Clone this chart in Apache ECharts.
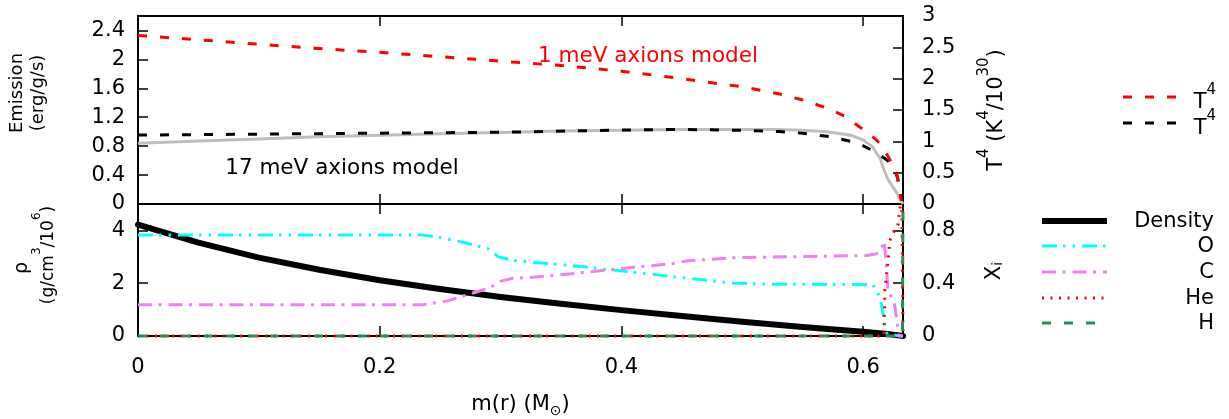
<!DOCTYPE html>
<html><head><meta charset="utf-8">
<script src="https://cdn.jsdelivr.net/npm/echarts@6/dist/echarts.min.js"></script>
<style>html,body{margin:0;padding:0;background:#fff}#c{width:1229px;height:419px}</style>
</head><body><div id="c"></div>
<script>
// ---------- data ----------
const xMax = 0.633;
// top panel, right axis: T^4 (K^4/10^30)
const mT4_1meV = [0, 0.05, 0.1, 0.15, 0.2, 0.25, 0.3, 0.35, 0.4, 0.45, 0.5, 0.53, 0.55, 0.57, 0.585, 0.6, 0.61, 0.615, 0.62, 0.625, 0.628, 0.63, 0.6315];
const T4_1meV  = [2.69, 2.62, 2.55, 2.48, 2.42, 2.35, 2.28, 2.21, 2.12, 2.00, 1.87, 1.76, 1.66, 1.53, 1.40, 1.19, 1.04, 0.94, 0.78, 0.61, 0.46, 0.25, 0.05];
const mT4_17meV = [0, 0.1, 0.2, 0.3, 0.4, 0.45, 0.5, 0.53, 0.55, 0.57, 0.59, 0.6, 0.61, 0.62, 0.625, 0.628, 0.63, 0.632];
const T4_17meV  = [1.10, 1.115, 1.13, 1.145, 1.18, 1.19, 1.175, 1.155, 1.13, 1.08, 1.0, 0.93, 0.83, 0.70, 0.58, 0.45, 0.30, 0.05];
// top panel, left axis: emission (erg/g/s)
const mEmission = [0, 0.05, 0.1, 0.15, 0.2, 0.25, 0.3, 0.35, 0.4, 0.45, 0.5, 0.53, 0.55, 0.57, 0.58, 0.59, 0.6, 0.608, 0.611, 0.614, 0.616, 0.62, 0.624, 0.628, 0.631, 0.633];
const emission  = [0.84, 0.87, 0.90, 0.93, 0.95, 0.97, 0.99, 1.01, 1.02, 1.03, 1.03, 1.03, 1.02, 1.00, 0.975, 0.95, 0.885, 0.79, 0.70, 0.64, 0.53, 0.36, 0.25, 0.15, 0.055, 0];
// bottom panel, left axis: density (g/cm^3/10^6)
const mDensity = [0, 0.025, 0.05, 0.1, 0.15, 0.2, 0.25, 0.3, 0.35, 0.4, 0.45, 0.5, 0.55, 0.6, 0.62, 0.633];
const density  = [4.22, 3.88, 3.54, 2.97, 2.51, 2.11, 1.78, 1.48, 1.22, 0.98, 0.76, 0.54, 0.34, 0.16, 0.08, 0];
// bottom panel, right axis: mass fractions X_i
const mOxygen = [0, 0.235, 0.25, 0.269, 0.29, 0.298, 0.31, 0.324, 0.355, 0.41, 0.454, 0.492, 0.52, 0.603, 0.608, 0.611, 0.614, 0.616, 0.618, 0.62, 0.633];
const oxygen  = [0.766, 0.766, 0.746, 0.71, 0.66, 0.60, 0.573, 0.562, 0.537, 0.483, 0.438, 0.401, 0.393, 0.389, 0.387, 0.35, 0.29, 0.195, 0.07, 0.01, 0];
const mCarbon = [0, 0.236, 0.256, 0.269, 0.291, 0.2996, 0.31, 0.324, 0.355, 0.41, 0.443, 0.454, 0.492, 0.603, 0.611, 0.615, 0.6175, 0.619, 0.6205, 0.623, 0.626, 0.628, 0.6295, 0.633];
const carbon  = [0.2365, 0.2365, 0.266, 0.303, 0.364, 0.414, 0.438, 0.443, 0.468, 0.52, 0.549, 0.569, 0.593, 0.61, 0.623, 0.66, 0.72, 0.55, 0.36, 0.30, 0.24, 0.12, 0.0, 0];
const mHelium = [0, 0.617, 0.6175, 0.618, 0.621, 0.622, 0.626, 0.629, 0.6305, 0.632, 0.633];
const helium  = [0, 0, 0.1, 0.35, 0.6, 0.72, 0.8, 0.85, 0.97, 0.99, 0];
const mHydrogen = [0, 0.6325, 0.633];
const hydrogen  = [0, 0, 1];

// ---------- styles ----------
const FONT = 'DejaVu Sans';
const TICK = 21;
const dashT4 = [9, 13];
const dashDot = [14, 6.5, 3, 7];
const dashDotDot = [15, 6, 2.5, 7, 2.5, 7];
const dotted = [2, 6.5];
const colRed = '#ff0000', colGray = '#bebebe', colCyan = '#00ffff', colViolet = '#ee82ee', colGreen = '#2e8b57';

const zip = (xs, ys) => xs.map((x, i) => [x, ys[i]]);
const fmt = v => String(+(+v).toFixed(3));

function xAx(grid, pos, labels) {
  const a = {
    gridIndex: grid, type: 'value', position: pos, min: 0, max: xMax, interval: 0.2,
    axisLine: {show: true, onZero: false, lineStyle: {color: '#000', width: 2}},
    axisTick: {show: true, inside: true, length: 10, lineStyle: {color: '#000', width: 1.5}},
    axisLabel: {show: labels, fontSize: TICK, fontFamily: FONT, color: '#000', margin: 21, showMaxLabel: false, formatter: fmt},
    splitLine: {show: false}
  };
  if (labels) {
    a.name = '{a|m(r) (M}{s|⊙}{a|)}';
    a.nameLocation = 'middle';
    a.nameGap = 56;
    a.nameTextStyle = {fontFamily: FONT, color: '#000', rich: {
      a: {fontSize: 21, fontFamily: FONT, color: '#000', lineHeight: 26},
      s: {fontSize: 14, fontFamily: FONT, color: '#000', lineHeight: 14, verticalAlign: 'bottom'}
    }};
  }
  return a;
}
function yAx(grid, pos, max, interval, showMax, margin) {
  return {
    gridIndex: grid, type: 'value', position: pos, min: 0, max: max, interval: interval,
    axisLine: {show: true, onZero: false, lineStyle: {color: '#000', width: 2}},
    axisTick: {show: true, inside: true, length: 10, lineStyle: {color: '#000', width: 1.5}},
    axisLabel: {show: true, fontSize: TICK, fontFamily: FONT, color: '#000', margin: margin, showMaxLabel: showMax, formatter: fmt},
    splitLine: {show: false}
  };
}
function line(name, xi, yi, data, color, width, type, z, cap) {
  return {type: 'line', name: name, xAxisIndex: xi, yAxisIndex: yi, data: data, showSymbol: false, symbol: 'none',
    clip: false, z: z, lineStyle: {color: color, width: width, type: type, cap: cap || 'butt', join: 'round'}};
}
function txt(x, y, text, opts) {
  const o = Object.assign({fontSize: 21, color: '#000', align: 'center', vAlign: 'middle', rot: 0, lineHeight: 22}, opts || {});
  return {type: 'text', x: x, y: y, rotation: o.rot, z: 100,
    style: {text: text, fill: o.color, fontSize: o.fontSize, fontFamily: FONT, font: o.fontSize + 'px "' + FONT + '"',
      align: o.align, textAlign: o.align, verticalAlign: o.vAlign, textVerticalAlign: o.vAlign, lineHeight: o.lineHeight, rich: o.rich}};
}
function lg(x1, x2, y, color, width, dash) {
  return {type: 'line', z: 100, shape: {x1: x1, y1: y, x2: x2, y2: y},
    style: {stroke: color, lineWidth: width, lineDash: dash || null, lineCap: 'butt'}};
}
const supRich = (big, small) => ({
  a: {fontSize: big, fontFamily: FONT, fill: '#000', lineHeight: big + 4, verticalAlign: 'bottom'},
  p: {fontSize: small, fontFamily: FONT, fill: '#000', lineHeight: big + 10, verticalAlign: 'top'},
  s: {fontSize: small, fontFamily: FONT, fill: '#000', lineHeight: small, verticalAlign: 'bottom'}
});

const chart = echarts.init(document.getElementById('c'), null, {renderer: 'canvas'});
chart.setOption({
  animation: false,
  backgroundColor: '#fff',
  textStyle: {fontFamily: FONT},
  grid: [
    {left: 138, right: 326, top: 16, height: 188},
    {left: 138, right: 326, top: 204, height: 135}
  ],
  xAxis: [xAx(0, 'bottom', false), xAx(0, 'top', false), xAx(1, 'bottom', true), xAx(1, 'top', false)],
  yAxis: [
    yAx(0, 'left', 2.6, 0.4, false, 13),
    yAx(0, 'right', 3, 0.5, true, 19),
    yAx(1, 'left', 5, 2, false, 13),
    yAx(1, 'right', 1, 0.4, false, 19)
  ],
  series: [
    line('Emission', 0, 0, zip(mEmission, emission), colGray, 3, 'solid', 2),
    line('T4 (17 meV)', 0, 1, zip(mT4_17meV, T4_17meV), '#000', 3, dashT4, 3),
    line('T4 (1 meV)', 0, 1, zip(mT4_1meV, T4_1meV), colRed, 3, dashT4, 4),
    line('Density', 2, 2, zip(mDensity, density), '#000', 6, 'solid', 2, 'round'),
    line('O', 2, 3, zip(mOxygen, oxygen), colCyan, 3, dashDotDot, 3),
    line('C', 2, 3, zip(mCarbon, carbon), colViolet, 3, dashDot, 4),
    line('He', 2, 3, zip(mHelium, helium), colRed, 3, dotted, 5),
    line('H', 2, 3, zip(mHydrogen, hydrogen), colGreen, 3, dashT4, 6)
  ],
  graphic: [
    // axis titles
    txt(28, 93, 'Emission\n(erg/g/s)', {rot: Math.PI / 2, lineHeight: 21, fontSize: 18}),
    txt(22, 268, 'ρ', {rot: Math.PI / 2, fontSize: 19}),
    txt(44, 255, '{a|(g/cm}{p|3}{a|/10}{p|6}{a|)}', {rot: Math.PI / 2, rich: supRich(17, 12)}),
    txt(992, 110, '{a|T}{p|4}{a| (K}{p|4}{a|/10}{p|30}{a|)}', {rot: Math.PI / 2, rich: supRich(21, 15)}),
    txt(993, 271, '{a|X}{s|i}', {rot: Math.PI / 2, rich: supRich(21, 14)}),
    // in-plot annotations
    txt(648, 56, '1 meV axions model', {color: colRed, fontSize: 21.5}),
    txt(342, 168, '17 meV axions model', {fontSize: 21.5}),
    // key, top panel
    lg(1123, 1178, 97, colRed, 3, dashT4),
    txt(1216, 98, '{a|T}{p|4}', {align: 'right', rich: supRich(21, 15)}),
    lg(1123, 1178, 123, '#000', 3, dashT4),
    txt(1216, 124, '{a|T}{p|4}', {align: 'right', rich: supRich(21, 15)}),
    // key, bottom panel
    lg(1042, 1107, 221, '#000', 6, null),
    txt(1214, 222, 'Density', {align: 'right'}),
    lg(1042, 1107, 246, colCyan, 3, dashDotDot),
    txt(1214, 247, 'O', {align: 'right'}),
    lg(1042, 1107, 272, colViolet, 3, dashDot),
    txt(1214, 273, 'C', {align: 'right'}),
    lg(1042, 1107, 298, colRed, 3, dotted),
    txt(1214, 299, 'He', {align: 'right'}),
    lg(1042, 1107, 323, colGreen, 3, dashT4),
    txt(1214, 324, 'H', {align: 'right'})
  ]
});
</script>
</body></html>
